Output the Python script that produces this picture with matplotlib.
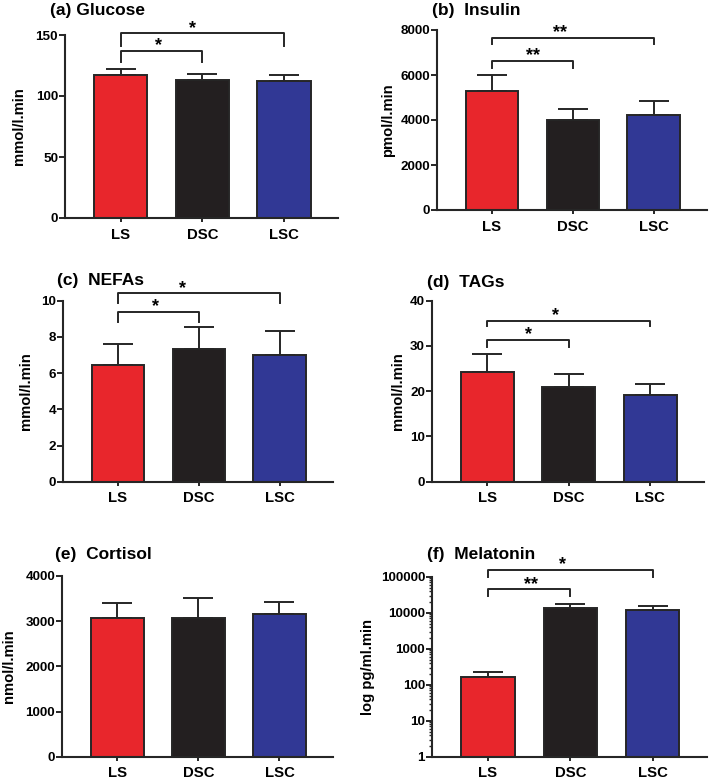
import matplotlib
matplotlib.use("Agg")
import matplotlib.pyplot as plt
import numpy as np

plt.rcParams['font.family'] = ['Liberation Sans', 'DejaVu Sans']
plt.rcParams['font.weight'] = 'bold'

groups = ["LS", "DSC", "LSC"]
colors = ["#E8262C", "#231F20", "#313895"]

titles = ["(a) Glucose", "(b)  Insulin", "(c)  NEFAs", "(d)  TAGs", "(e)  Cortisol", "(f)  Melatonin"]
ylabels = ["mmol/l.min", "pmol/l.min", "mmol/l.min", "mmol/l.min", "nmol/l.min", "log pg/ml.min"]

glucose = [117, 113, 112]
glucose_err = [5, 5, 5]
insulin = [5300, 3980, 4220]
insulin_err = [700, 490, 610]
nefas = [6.45, 7.31, 7.0]
nefas_err = [1.16, 1.25, 1.31]
tags = [24.3, 21.0, 19.2]
tags_err = [3.9, 2.7, 2.5]
cortisol = [3065, 3077, 3160]
cortisol_err = [345, 430, 270]
melatonin = [165, 13200, 11900]
melatonin_err = [62, 3800, 3500]

values = [glucose, insulin, nefas, tags, cortisol, melatonin]
errors = [glucose_err, insulin_err, nefas_err, tags_err, cortisol_err, melatonin_err]

yticks = [[0, 50, 100, 150], [0, 2000, 4000, 6000, 8000], [0, 2, 4, 6, 8, 10],
          [0, 10, 20, 30, 40], [0, 1000, 2000, 3000, 4000], [1, 10, 100, 1000, 10000, 100000]]
ylims = [(0, 150), (0, 8000), (0, 10), (0, 40), (0, 4000), (1, 100000)]

# significance brackets: (i, j, y_bar, y_end, label, star_x)
sig = [
    [(0, 2, 151.4, 141, "*", 0.88), (0, 1, 137.1, 128, "*", 0.47)],
    [(0, 2, 7660, 7400, "**", 0.84), (0, 1, 6620, 6330, "**", 0.51)],
    [(0, 2, 10.4, 9.86, "*", 0.8), (0, 1, 9.36, 8.84, "*", 0.47)],
    [(0, 2, 35.6, 34.3, "*", 0.84), (0, 1, 31.3, 29.8, "*", 0.5)],
    [],
    [(0, 2, 10**5.19, 10**5.0, "*", 0.9), (0, 1, 10**4.65, 10**4.47, "**", 0.52)],
]

W, H = 709, 781
fig = plt.figure(figsize=(W / 100, H / 100), dpi=100)

# axes boxes in pixels: left, right, top, bottom
boxes = [(65, 338, 35, 218), (437, 707, 30, 210), (63, 333, 300.7, 481.7),
         (432, 704, 300.7, 481.7), (62, 333, 576, 756.7), (432, 707, 576.7, 756.7)]
labelpads = [7, 4, 6, 4, 7, 4]

x = np.arange(3)
for k in range(6):
    l, r, t, b = boxes[k]
    ax = fig.add_axes([l / W, 1 - b / H, (r - l) / W, (b - t) / H])
    log = (k == 5)
    if log:
        ax.set_yscale('log')
    ax.bar(x, values[k], width=0.65, color=colors, edgecolor="#262626", linewidth=1.4, zorder=2)
    ax.errorbar(x, values[k], yerr=[np.zeros(3), errors[k]], fmt='none', ecolor="#262626",
                elinewidth=1.4, capsize=11, capthick=1.4, zorder=1)
    ax.set_xlim(-0.68, 2.66)
    ax.set_ylim(*ylims[k])
    ax.set_yticks(yticks[k])
    if log:
        ax.set_yticklabels([str(v) for v in yticks[k]])
        ax.yaxis.set_minor_locator(matplotlib.ticker.LogLocator(base=10, subs=np.arange(2, 10)))
        ax.yaxis.set_minor_formatter(matplotlib.ticker.NullFormatter())
        ax.tick_params(axis='y', which='minor', length=2.5, width=1.0, color="#262626")
    ax.set_xticks(x)
    ax.set_xticklabels(groups, fontsize=10.7, fontweight='bold')
    ax.tick_params(axis='y', which='major', labelsize=9.7, length=4, width=1.4, color="#262626", pad=1)
    ax.tick_params(axis='x', length=3, width=1.4, color="#262626", pad=4)
    for lbl in ax.get_yticklabels():
        lbl.set_fontweight('bold')
    for s in ['top', 'right']:
        ax.spines[s].set_visible(False)
    for s in ['left', 'bottom']:
        ax.spines[s].set_linewidth(1.5)
        ax.spines[s].set_color("#262626")
    ax.set_ylabel(ylabels[k], fontsize=10.7, fontweight='bold', labelpad=labelpads[k])
    ax.set_facecolor('none')

    for (i, j, yb, ye, lab, sx) in sig[k]:
        ax.plot([i, i, j, j], [ye, yb, yb, ye], color="#262626", lw=1.4, clip_on=False)
        ax.annotate(lab, xy=(sx, yb), xytext=(0, 0.5), textcoords='offset points',
                    ha='center', va='baseline', fontsize=13, fontweight='bold',
                    annotation_clip=False)

# titles in pixel positions
title_pos = [(50, 10), (432, 10), (57, 280), (427, 282), (55, 555), (427, 555)]
for k in range(6):
    fig.text(title_pos[k][0] / W, 1 - title_pos[k][1] / H, titles[k], fontsize=12.5,
             fontweight='bold', ha='left', va='center')

fig.savefig("out.png", dpi=100, facecolor='white')
